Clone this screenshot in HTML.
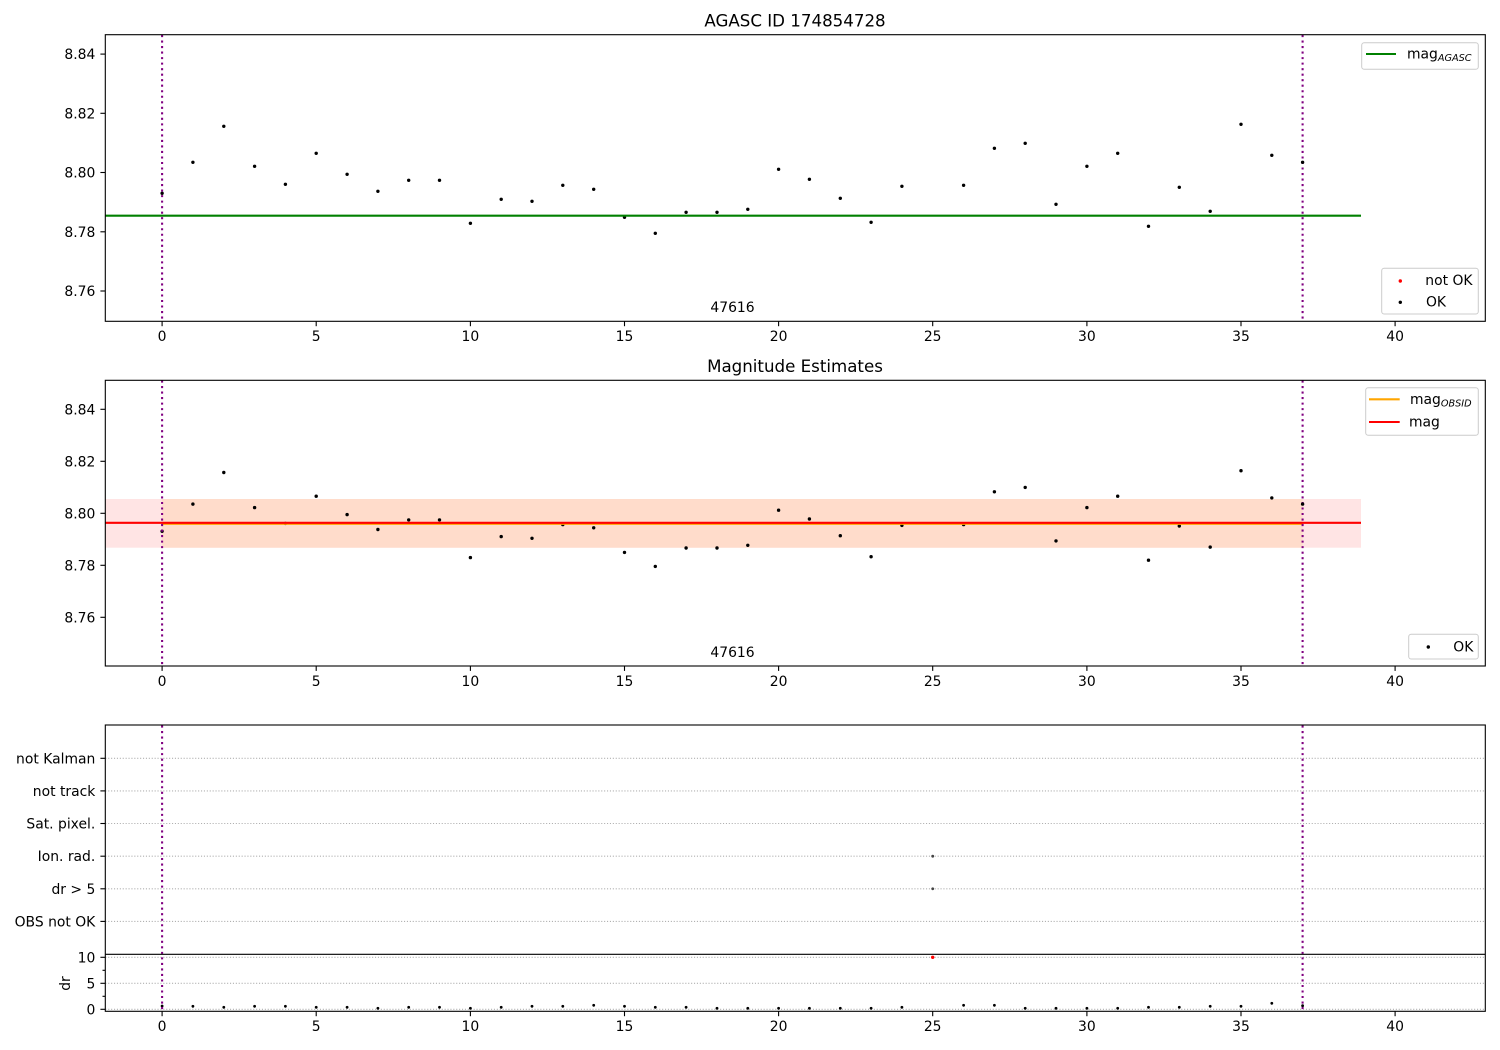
<!DOCTYPE html>
<html><head><meta charset="utf-8"><style>
html,body{margin:0;padding:0;background:#fff;}
svg{display:block;font-family:"DejaVu Sans","Liberation Sans",sans-serif;}
</style></head><body>
<svg width="1500" height="1050" viewBox="0 0 1500 1050" xmlns="http://www.w3.org/2000/svg">
<rect width="1500" height="1050" fill="#fff"/>

<!-- ================= PANEL 1 ================= -->
<text x="795" y="26.5" font-size="16.67" text-anchor="middle" fill="#000">AGASC ID 174854728</text>
<g fill="#000">
<circle cx="162.1" cy="193.3" r="1.7"/><circle cx="192.9" cy="162.3" r="1.7"/><circle cx="223.8" cy="126.3" r="1.7"/><circle cx="254.6" cy="166.3" r="1.7"/><circle cx="285.4" cy="184.3" r="1.7"/><circle cx="316.2" cy="153.3" r="1.7"/><circle cx="347.1" cy="174.3" r="1.7"/><circle cx="377.9" cy="191.3" r="1.7"/><circle cx="408.7" cy="180.3" r="1.7"/><circle cx="439.5" cy="180.3" r="1.7"/><circle cx="470.4" cy="223.3" r="1.7"/><circle cx="501.2" cy="199.3" r="1.7"/><circle cx="532.0" cy="201.3" r="1.7"/><circle cx="562.8" cy="185.3" r="1.7"/><circle cx="593.7" cy="189.3" r="1.7"/><circle cx="624.5" cy="217.3" r="1.7"/><circle cx="655.3" cy="233.3" r="1.7"/><circle cx="686.1" cy="212.3" r="1.7"/><circle cx="717.0" cy="212.3" r="1.7"/><circle cx="747.8" cy="209.3" r="1.7"/><circle cx="778.6" cy="169.3" r="1.7"/><circle cx="809.4" cy="179.3" r="1.7"/><circle cx="840.3" cy="198.3" r="1.7"/><circle cx="871.1" cy="222.3" r="1.7"/><circle cx="901.9" cy="186.3" r="1.7"/><circle cx="963.6" cy="185.3" r="1.7"/><circle cx="994.4" cy="148.3" r="1.7"/><circle cx="1025.2" cy="143.3" r="1.7"/><circle cx="1056.0" cy="204.3" r="1.7"/><circle cx="1086.9" cy="166.3" r="1.7"/><circle cx="1117.7" cy="153.3" r="1.7"/><circle cx="1148.5" cy="226.3" r="1.7"/><circle cx="1179.3" cy="187.3" r="1.7"/><circle cx="1210.2" cy="211.3" r="1.7"/><circle cx="1241.0" cy="124.3" r="1.7"/><circle cx="1271.8" cy="155.3" r="1.7"/>
</g>
<line x1="105.3" y1="215.7" x2="1361" y2="215.7" stroke="#008000" stroke-width="2.08"/>
<line x1="162.1" y1="35" x2="162.1" y2="321" stroke="#800080" stroke-width="2.08" stroke-dasharray="2.08,3.44"/>
<line x1="1302.6" y1="35" x2="1302.6" y2="321" stroke="#800080" stroke-width="2.08" stroke-dasharray="2.08,3.44"/>
<circle cx="1302.6" cy="162.3" r="1.7" fill="#000"/>
<text x="732.5" y="312" font-size="13.9" text-anchor="middle" fill="#000">47616</text>
<!-- legends -->
<rect x="1361.7" y="42.7" width="116.6" height="26.6" rx="2.5" fill="#fff" fill-opacity="0.8" stroke="#cccccc" stroke-width="1"/>
<line x1="1366" y1="54" x2="1396" y2="54" stroke="#008000" stroke-width="2.08"/>
<text x="1407" y="58.5" font-size="13.9" fill="#000">mag<tspan font-size="9.7" font-style="italic" dy="2.5">AGASC</tspan></text>
<rect x="1381.7" y="268.3" width="96.6" height="45.7" rx="2.5" fill="#fff" fill-opacity="0.8" stroke="#cccccc" stroke-width="1"/>
<circle cx="1400.3" cy="281" r="1.7" fill="#ff0000"/>
<text x="1425.3" y="285" font-size="13.9" fill="#000">not OK</text>
<circle cx="1400.3" cy="302.3" r="1.7" fill="#000"/>
<text x="1426" y="306.5" font-size="13.9" fill="#000">OK</text>
<!-- axes frame -->
<rect x="105.3" y="34.7" width="1380" height="286.6" fill="none" stroke="#000" stroke-width="1.1"/>
<g stroke="#000" stroke-width="1.1">
<line x1="100.4" y1="54.1" x2="105.3" y2="54.1"/><line x1="100.4" y1="113.3" x2="105.3" y2="113.3"/><line x1="100.4" y1="172.5" x2="105.3" y2="172.5"/><line x1="100.4" y1="231.8" x2="105.3" y2="231.8"/><line x1="100.4" y1="291" x2="105.3" y2="291"/>
<line x1="162.1" y1="321.3" x2="162.1" y2="326.2"/><line x1="316.2" y1="321.3" x2="316.2" y2="326.2"/><line x1="470.4" y1="321.3" x2="470.4" y2="326.2"/><line x1="624.5" y1="321.3" x2="624.5" y2="326.2"/><line x1="778.6" y1="321.3" x2="778.6" y2="326.2"/><line x1="932.7" y1="321.3" x2="932.7" y2="326.2"/><line x1="1086.9" y1="321.3" x2="1086.9" y2="326.2"/><line x1="1241.0" y1="321.3" x2="1241.0" y2="326.2"/><line x1="1395.1" y1="321.3" x2="1395.1" y2="326.2"/>
</g>
<g font-size="13.9" fill="#000" text-anchor="end">
<text x="95.3" y="59.1">8.84</text><text x="95.3" y="118.3">8.82</text><text x="95.3" y="177.5">8.80</text><text x="95.3" y="236.8">8.78</text><text x="95.3" y="296">8.76</text>
</g>
<g font-size="13.9" fill="#000" text-anchor="middle">
<text x="162.1" y="341">0</text><text x="316.2" y="341">5</text><text x="470.4" y="341">10</text><text x="624.5" y="341">15</text><text x="778.6" y="341">20</text><text x="932.7" y="341">25</text><text x="1086.9" y="341">30</text><text x="1241.0" y="341">35</text><text x="1395.1" y="341">40</text>
</g>

<!-- ================= PANEL 2 ================= -->
<text x="795" y="372" font-size="16.67" text-anchor="middle" fill="#000">Magnitude Estimates</text>
<rect x="105.3" y="499" width="1255.7" height="48.7" fill="#ffe4e4"/>
<rect x="162.1" y="499" width="1140.5" height="48.7" fill="#ffdccb"/>
<g fill="#000">
<circle cx="162.1" cy="531.3" r="1.7"/><circle cx="192.9" cy="504.1" r="1.7"/><circle cx="223.8" cy="472.5" r="1.7"/><circle cx="254.6" cy="507.6" r="1.7"/><circle cx="285.4" cy="523.4" r="1.7"/><circle cx="316.2" cy="496.2" r="1.7"/><circle cx="347.1" cy="514.6" r="1.7"/><circle cx="377.9" cy="529.5" r="1.7"/><circle cx="408.7" cy="519.9" r="1.7"/><circle cx="439.5" cy="519.9" r="1.7"/><circle cx="470.4" cy="557.6" r="1.7"/><circle cx="501.2" cy="536.6" r="1.7"/><circle cx="532.0" cy="538.3" r="1.7"/><circle cx="562.8" cy="524.6" r="1.7"/><circle cx="593.7" cy="527.8" r="1.7"/><circle cx="624.5" cy="552.4" r="1.7"/><circle cx="655.3" cy="566.4" r="1.7"/><circle cx="686.1" cy="548.0" r="1.7"/><circle cx="717.0" cy="548.0" r="1.7"/><circle cx="747.8" cy="545.3" r="1.7"/><circle cx="778.6" cy="510.2" r="1.7"/><circle cx="809.4" cy="519.0" r="1.7"/><circle cx="840.3" cy="535.7" r="1.7"/><circle cx="871.1" cy="556.7" r="1.7"/><circle cx="901.9" cy="525.4" r="1.7"/><circle cx="963.6" cy="524.6" r="1.7"/><circle cx="994.4" cy="491.8" r="1.7"/><circle cx="1025.2" cy="487.4" r="1.7"/><circle cx="1056.0" cy="540.9" r="1.7"/><circle cx="1086.9" cy="507.6" r="1.7"/><circle cx="1117.7" cy="496.2" r="1.7"/><circle cx="1148.5" cy="560.2" r="1.7"/><circle cx="1179.3" cy="526.0" r="1.7"/><circle cx="1210.2" cy="547.1" r="1.7"/><circle cx="1241.0" cy="470.7" r="1.7"/><circle cx="1271.8" cy="497.9" r="1.7"/>
</g>
<line x1="162.1" y1="524.0" x2="1302.6" y2="524.0" stroke="#ffa500" stroke-width="1.8"/>
<line x1="105.3" y1="522.8" x2="1361" y2="522.8" stroke="#ff0000" stroke-width="2.08"/>
<line x1="162.1" y1="380.5" x2="162.1" y2="666" stroke="#800080" stroke-width="2.08" stroke-dasharray="2.08,3.44"/>
<line x1="1302.6" y1="380.5" x2="1302.6" y2="666" stroke="#800080" stroke-width="2.08" stroke-dasharray="2.08,3.44"/>
<circle cx="1302.6" cy="504.1" r="1.7" fill="#000"/>
<text x="732.5" y="657" font-size="13.9" text-anchor="middle" fill="#000">47616</text>
<rect x="1365.7" y="387.7" width="112.6" height="47.6" rx="2.5" fill="#fff" fill-opacity="0.8" stroke="#cccccc" stroke-width="1"/>
<line x1="1369" y1="399.3" x2="1399.7" y2="399.3" stroke="#ffa500" stroke-width="2.08"/>
<text x="1410" y="404" font-size="13.9" fill="#000">mag<tspan font-size="9.7" font-style="italic" dy="2.5">OBSID</tspan></text>
<line x1="1369" y1="422" x2="1399.7" y2="422" stroke="#ff0000" stroke-width="2.08"/>
<text x="1409" y="426.5" font-size="13.9" fill="#000">mag</text>
<rect x="1408.7" y="634.3" width="69.6" height="24.7" rx="2.5" fill="#fff" fill-opacity="0.8" stroke="#cccccc" stroke-width="1"/>
<circle cx="1428.3" cy="647" r="1.7" fill="#000"/>
<text x="1453.3" y="651.5" font-size="13.9" fill="#000">OK</text>
<rect x="105.3" y="380.3" width="1380" height="285.7" fill="none" stroke="#000" stroke-width="1.1"/>
<g stroke="#000" stroke-width="1.1">
<line x1="100.4" y1="409.3" x2="105.3" y2="409.3"/><line x1="100.4" y1="461.3" x2="105.3" y2="461.3"/><line x1="100.4" y1="513.3" x2="105.3" y2="513.3"/><line x1="100.4" y1="565.3" x2="105.3" y2="565.3"/><line x1="100.4" y1="617.3" x2="105.3" y2="617.3"/>
<line x1="162.1" y1="666" x2="162.1" y2="670.9"/><line x1="316.2" y1="666" x2="316.2" y2="670.9"/><line x1="470.4" y1="666" x2="470.4" y2="670.9"/><line x1="624.5" y1="666" x2="624.5" y2="670.9"/><line x1="778.6" y1="666" x2="778.6" y2="670.9"/><line x1="932.7" y1="666" x2="932.7" y2="670.9"/><line x1="1086.9" y1="666" x2="1086.9" y2="670.9"/><line x1="1241.0" y1="666" x2="1241.0" y2="670.9"/><line x1="1395.1" y1="666" x2="1395.1" y2="670.9"/>
</g>
<g font-size="13.9" fill="#000" text-anchor="end">
<text x="95.3" y="414.3">8.84</text><text x="95.3" y="466.3">8.82</text><text x="95.3" y="518.3">8.80</text><text x="95.3" y="570.3">8.78</text><text x="95.3" y="622.3">8.76</text>
</g>
<g font-size="13.9" fill="#000" text-anchor="middle">
<text x="162.1" y="686">0</text><text x="316.2" y="686">5</text><text x="470.4" y="686">10</text><text x="624.5" y="686">15</text><text x="778.6" y="686">20</text><text x="932.7" y="686">25</text><text x="1086.9" y="686">30</text><text x="1241.0" y="686">35</text><text x="1395.1" y="686">40</text>
</g>

<!-- ================= PANEL 3 ================= -->
<g stroke="#b0b0b0" stroke-width="1.1" stroke-dasharray="1.1,1.8">
<line x1="105.3" y1="758.3" x2="1485.3" y2="758.3"/><line x1="105.3" y1="790.9" x2="1485.3" y2="790.9"/><line x1="105.3" y1="823.5" x2="1485.3" y2="823.5"/><line x1="105.3" y1="856.2" x2="1485.3" y2="856.2"/><line x1="105.3" y1="888.8" x2="1485.3" y2="888.8"/><line x1="105.3" y1="921.4" x2="1485.3" y2="921.4"/>
<line x1="105.3" y1="957.3" x2="1485.3" y2="957.3"/><line x1="105.3" y1="983.3" x2="1485.3" y2="983.3"/><line x1="105.3" y1="1009.3" x2="1485.3" y2="1009.3"/>
</g>
<circle cx="932.7" cy="856.2" r="1.4" fill="#444"/>
<circle cx="932.7" cy="888.8" r="1.4" fill="#444"/>
<g fill="#000">
<circle cx="162.1" cy="1006" r="1.4"/><circle cx="192.9" cy="1006.3" r="1.4"/><circle cx="223.8" cy="1007.3" r="1.4"/><circle cx="254.6" cy="1006.3" r="1.4"/><circle cx="285.4" cy="1006.3" r="1.4"/><circle cx="316.2" cy="1007.3" r="1.4"/><circle cx="347.1" cy="1007.3" r="1.4"/><circle cx="377.9" cy="1008.3" r="1.4"/><circle cx="408.7" cy="1007.3" r="1.4"/><circle cx="439.5" cy="1007.3" r="1.4"/><circle cx="470.4" cy="1008.3" r="1.4"/><circle cx="501.2" cy="1007.3" r="1.4"/><circle cx="532.0" cy="1006.3" r="1.4"/><circle cx="562.8" cy="1006.3" r="1.4"/><circle cx="593.7" cy="1005.3" r="1.4"/><circle cx="624.5" cy="1006.3" r="1.4"/><circle cx="655.3" cy="1007.3" r="1.4"/><circle cx="686.1" cy="1007.3" r="1.4"/><circle cx="717.0" cy="1008.3" r="1.4"/><circle cx="747.8" cy="1008.3" r="1.4"/><circle cx="778.6" cy="1008.3" r="1.4"/><circle cx="809.4" cy="1008.3" r="1.4"/><circle cx="840.3" cy="1008.3" r="1.4"/><circle cx="871.1" cy="1008.3" r="1.4"/><circle cx="901.9" cy="1007.3" r="1.4"/><circle cx="963.6" cy="1005.3" r="1.4"/><circle cx="994.4" cy="1005.3" r="1.4"/><circle cx="1025.2" cy="1008.3" r="1.4"/><circle cx="1056.0" cy="1008.3" r="1.4"/><circle cx="1086.9" cy="1008.3" r="1.4"/><circle cx="1117.7" cy="1008.3" r="1.4"/><circle cx="1148.5" cy="1007.3" r="1.4"/><circle cx="1179.3" cy="1007.3" r="1.4"/><circle cx="1210.2" cy="1006.3" r="1.4"/><circle cx="1241.0" cy="1006.3" r="1.4"/><circle cx="1271.8" cy="1003.3" r="1.4"/>
</g>
<circle cx="932.7" cy="957.3" r="1.7" fill="#ff0000"/>
<line x1="162.1" y1="725.5" x2="162.1" y2="1011" stroke="#800080" stroke-width="2.08" stroke-dasharray="2.08,3.44"/>
<line x1="1302.6" y1="725.5" x2="1302.6" y2="1011" stroke="#800080" stroke-width="2.08" stroke-dasharray="2.08,3.44"/>
<circle cx="1302.6" cy="1005.7" r="1.4" fill="#000"/>
<rect x="105.3" y="725" width="1380" height="286.3" fill="none" stroke="#000" stroke-width="1.1"/>
<line x1="105.3" y1="954.3" x2="1485.3" y2="954.3" stroke="#000" stroke-width="1.1"/>
<g stroke="#000" stroke-width="1.1">
<line x1="100.4" y1="758.3" x2="105.3" y2="758.3"/><line x1="100.4" y1="790.9" x2="105.3" y2="790.9"/><line x1="100.4" y1="823.5" x2="105.3" y2="823.5"/><line x1="100.4" y1="856.2" x2="105.3" y2="856.2"/><line x1="100.4" y1="888.8" x2="105.3" y2="888.8"/><line x1="100.4" y1="921.4" x2="105.3" y2="921.4"/>
<line x1="100.4" y1="957.3" x2="105.3" y2="957.3"/><line x1="100.4" y1="983.3" x2="105.3" y2="983.3"/><line x1="100.4" y1="1009.3" x2="105.3" y2="1009.3"/>
<line x1="102.5" y1="970.3" x2="105.3" y2="970.3"/><line x1="102.5" y1="996.3" x2="105.3" y2="996.3"/>
<line x1="162.1" y1="1011.3" x2="162.1" y2="1016.2"/><line x1="316.2" y1="1011.3" x2="316.2" y2="1016.2"/><line x1="470.4" y1="1011.3" x2="470.4" y2="1016.2"/><line x1="624.5" y1="1011.3" x2="624.5" y2="1016.2"/><line x1="778.6" y1="1011.3" x2="778.6" y2="1016.2"/><line x1="932.7" y1="1011.3" x2="932.7" y2="1016.2"/><line x1="1086.9" y1="1011.3" x2="1086.9" y2="1016.2"/><line x1="1241.0" y1="1011.3" x2="1241.0" y2="1016.2"/><line x1="1395.1" y1="1011.3" x2="1395.1" y2="1016.2"/>
</g>
<g font-size="13.9" fill="#000" text-anchor="end">
<text x="95.3" y="763.3">not Kalman</text><text x="95.3" y="795.9">not track</text><text x="95.3" y="828.5">Sat. pixel.</text><text x="95.3" y="861.2">Ion. rad.</text><text x="95.3" y="893.8">dr &gt; 5</text><text x="95.3" y="926.4">OBS not OK</text>
<text x="95.3" y="962.3">10</text><text x="95.3" y="988.3">5</text><text x="95.3" y="1014.3">0</text>
</g>
<text transform="translate(70,983.5) rotate(-90)" font-size="13.9" text-anchor="middle" fill="#000">dr</text>
<g font-size="13.9" fill="#000" text-anchor="middle">
<text x="162.1" y="1031">0</text><text x="316.2" y="1031">5</text><text x="470.4" y="1031">10</text><text x="624.5" y="1031">15</text><text x="778.6" y="1031">20</text><text x="932.7" y="1031">25</text><text x="1086.9" y="1031">30</text><text x="1241.0" y="1031">35</text><text x="1395.1" y="1031">40</text>
</g>
</svg>
</body></html>
